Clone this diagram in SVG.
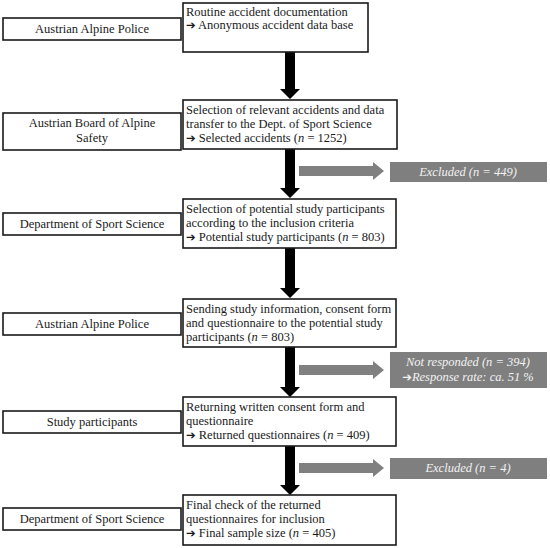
<svg xmlns="http://www.w3.org/2000/svg" width="550" height="548" viewBox="0 0 550 548">
<style>
.box{fill:#fff;stroke:#1a1a1a;stroke-width:1.6}
.gbox{fill:#7f7f7f}
.t{font-family:"Liberation Serif","Times New Roman",serif;font-size:12.5px;fill:#1a1a1a}
.c{text-anchor:middle}
.g{font-family:"Liberation Serif","Times New Roman",serif;font-size:12.5px;fill:#f2f2f2;font-style:italic;text-anchor:middle}
.i{font-style:italic}
.ar{font-family:"DejaVu Sans",sans-serif;font-size:11.5px;font-style:normal}
.blk{fill:#000}
.gra{fill:#808080}
</style>
<rect width="550" height="548" fill="#fff"/>
<g id="connectors">
<path class="blk" d="M285,52 V89 H280 L290,99 L300,89 H295 V52 Z"/>
<path class="blk" d="M285,149 V188 H280 L290,198 L300,188 H295 V149 Z"/>
<path class="blk" d="M285,248 V288 H280 L290,298 L300,288 H295 V248 Z"/>
<path class="blk" d="M285,347 V387 H280 L290,397 L300,387 H295 V347 Z"/>
<path class="blk" d="M285,446 V485 H280 L290,495 L300,485 H295 V446 Z"/>
<path class="gra" d="M299,166 H373 V162 L384,171 L373,180 V176 H299 Z"/>
<path class="gra" d="M299,365 H373 V361 L384,370 L373,379 V375 H299 Z"/>
<path class="gra" d="M299,463 H373 V459 L384,468 L373,477 V473 H299 Z"/>
</g>
<g id="left1"><rect class="box" x="3" y="18" width="178" height="22"/><text class="t c" x="92" y="33">Austrian Alpine Police</text></g>
<g id="left2"><rect class="box" x="3" y="113" width="178" height="37"/><text class="t c" x="92" y="127">Austrian Board of Alpine</text><text class="t c" x="92" y="142">Safety</text></g>
<g id="left3"><rect class="box" x="3" y="213" width="178" height="22"/><text class="t c" x="92" y="228">Department of Sport Science</text></g>
<g id="left4"><rect class="box" x="3" y="313" width="178" height="22"/><text class="t c" x="92" y="328">Austrian Alpine Police</text></g>
<g id="left5"><rect class="box" x="3" y="411" width="178" height="22"/><text class="t c" x="92" y="426">Study participants</text></g>
<g id="left6"><rect class="box" x="3" y="508" width="178" height="22"/><text class="t c" x="92" y="523">Department of Sport Science</text></g>
<g id="step1"><rect class="box" x="183" y="3" width="185" height="49"/>
<text class="t" x="186" y="16">Routine accident documentation</text>
<text class="t" x="186" y="29"><tspan class="ar">➔</tspan> Anonymous accident data base</text></g>
<g id="step2"><rect class="box" x="183" y="100" width="214" height="49"/>
<text class="t" x="186" y="114">Selection of relevant accidents and data</text>
<text class="t" x="186" y="128">transfer to the Dept. of Sport Science</text>
<text class="t" x="186" y="142"><tspan class="ar">➔</tspan> Selected accidents (<tspan class="i">n</tspan> = 1252)</text></g>
<g id="step3"><rect class="box" x="183" y="199" width="213" height="49"/>
<text class="t" x="186" y="213">Selection of potential study participants</text>
<text class="t" x="186" y="227">according to the inclusion criteria</text>
<text class="t" x="186" y="241"><tspan class="ar">➔</tspan> Potential study participants (<tspan class="i">n</tspan> = 803)</text></g>
<g id="step4"><rect class="box" x="183" y="299" width="213" height="48"/>
<text class="t" x="186" y="313">Sending study information, consent form</text>
<text class="t" x="186" y="327">and questionnaire to the potential study</text>
<text class="t" x="186" y="341">participants (<tspan class="i">n</tspan> = 803)</text></g>
<g id="step5"><rect class="box" x="183" y="397" width="213" height="49"/>
<text class="t" x="186" y="411">Returning written consent form and</text>
<text class="t" x="186" y="425">questionnaire</text>
<text class="t" x="186" y="439"><tspan class="ar">➔</tspan> Returned questionnaires (<tspan class="i">n</tspan> = 409)</text></g>
<g id="step6"><rect class="box" x="183" y="495" width="213" height="50"/>
<text class="t" x="186" y="509">Final check of the returned</text>
<text class="t" x="186" y="523">questionnaires for inclusion</text>
<text class="t" x="186" y="537"><tspan class="ar">➔</tspan> Final sample size (<tspan class="i">n</tspan> = 405)</text></g>
<g id="excl1"><rect class="gbox" x="390" y="162" width="157" height="20"/><text class="g" x="468" y="176">Excluded (n = 449)</text></g>
<g id="excl2"><rect class="gbox" x="390" y="352" width="157" height="36"/><text class="g" x="468" y="366">Not responded (n = 394)</text><text class="g" x="468" y="381"><tspan class="ar">➔</tspan>Response rate: ca. 51 %</text></g>
<g id="excl3"><rect class="gbox" x="390" y="458" width="157" height="21"/><text class="g" x="468" y="472">Excluded (n = 4)</text></g>
</svg>
